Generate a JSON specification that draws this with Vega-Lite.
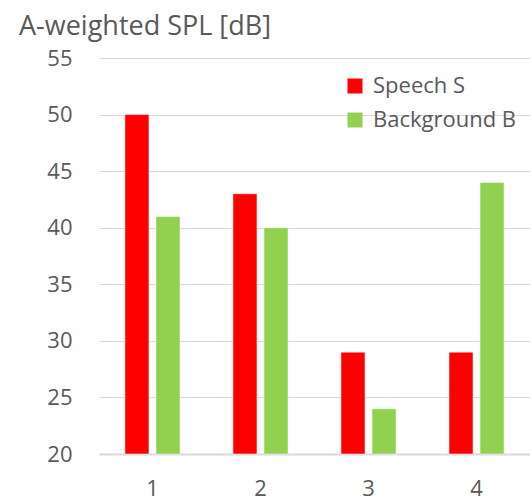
{
  "$schema": "https://vega.github.io/schema/vega-lite/v6.json",
  "width": 431,
  "height": 396,
  "autosize": "none",
  "padding": {"left": 99, "top": 58, "right": 0, "bottom": 47},
  "background": "white",
  "title": {
    "text": "A-weighted SPL [dB]",
    "anchor": "start",
    "frame": "group",
    "dx": -80,
    "dy": 20,
    "offset": 26,
    "fontSize": 27,
    "font": "Open Sans",
    "fontWeight": "normal",
    "color": "#595959"
  },
  "data": {
    "values": [
      {"cat": "1", "series": "Speech S", "value": 50},
      {"cat": "1", "series": "Background B", "value": 41},
      {"cat": "2", "series": "Speech S", "value": 43},
      {"cat": "2", "series": "Background B", "value": 40},
      {"cat": "3", "series": "Speech S", "value": 29},
      {"cat": "3", "series": "Background B", "value": 24},
      {"cat": "4", "series": "Speech S", "value": 29},
      {"cat": "4", "series": "Background B", "value": 44}
    ]
  },
  "mark": {"type": "bar", "stroke": "white", "strokeWidth": 0.5},
  "encoding": {
    "x": {
      "field": "cat",
      "type": "nominal",
      "scale": {"paddingInner": 0.49, "paddingOuter": 0.24},
      "axis": {
        "title": null,
        "labelAngle": 0,
        "ticks": false,
        "domainColor": "#D9D9D9",
        "domainWidth": 2,
        "labelPadding": 24,
        "labelFontSize": 22,
        "labelFont": "Open Sans",
        "labelColor": "#595959"
      }
    },
    "xOffset": {
      "field": "series",
      "type": "nominal",
      "sort": ["Speech S", "Background B"],
      "scale": {"paddingInner": 0.226, "paddingOuter": 0}
    },
    "y": {
      "field": "value",
      "type": "quantitative",
      "scale": {"domain": [20, 55], "zero": false, "nice": false},
      "axis": {
        "title": null,
        "values": [20, 25, 30, 35, 40, 45, 50, 55],
        "domain": false,
        "ticks": false,
        "gridColor": "#D9D9D9",
        "gridWidth": 1,
        "labelPadding": 27,
        "labelFontSize": 22,
        "labelFont": "Open Sans",
        "labelColor": "#595959"
      }
    },
    "y2": {"datum": 20},
    "color": {
      "field": "series",
      "type": "nominal",
      "sort": ["Speech S", "Background B"],
      "scale": {"domain": ["Speech S", "Background B"], "range": ["#FF0000", "#92D050"]},
      "legend": {
        "title": null,
        "orient": "none",
        "legendX": 245,
        "legendY": 17,
        "symbolType": "square",
        "symbolSize": 225,
        "symbolStrokeWidth": 0,
        "labelFontSize": 22,
        "labelFont": "Open Sans",
        "labelColor": "#595959",
        "labelOffset": 7,
        "rowPadding": 12
      }
    }
  },
  "config": {"view": {"stroke": null}}
}
